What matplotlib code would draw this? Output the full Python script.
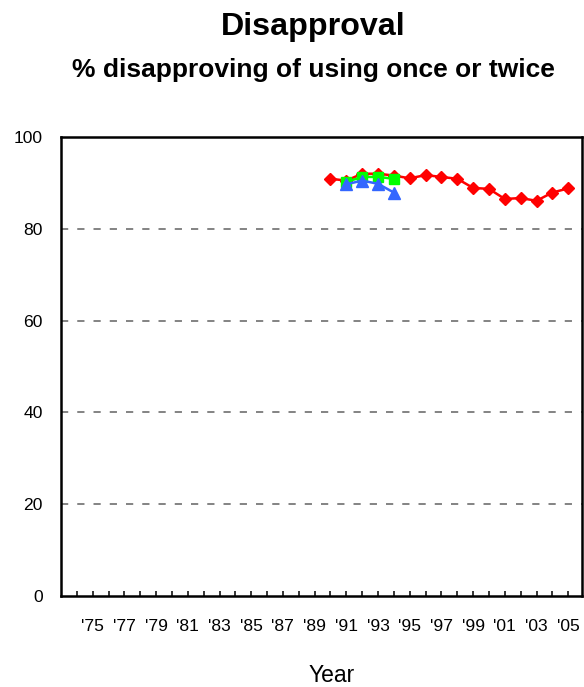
import matplotlib
matplotlib.use("Agg")
import matplotlib.pyplot as plt
from matplotlib.ticker import FixedLocator, FixedFormatter

plt.rcParams['font.family'] = ['Liberation Sans', 'DejaVu Sans']

# Data
red_years = list(range(1990, 2006))
red_values = [90.9, 90.5, 92.0, 92.0, 91.6, 91.0, 91.7, 91.3, 90.9, 88.9, 88.7, 86.5, 86.7, 86.1, 87.9, 88.8]
green_years = [1991, 1992, 1993, 1994]
green_values = [90.2, 91.3, 91.3, 90.9]
blue_years = [1991, 1992, 1993, 1994]
blue_values = [89.7, 90.5, 89.8, 87.9]

tick_years = list(range(1974, 2006))
label_years = list(range(1975, 2006, 2))
label_texts = ["'" + str(y)[2:] for y in label_years]
y_ticks = [0, 20, 40, 60, 80, 100]

W, H = 584, 687
fig = plt.figure(figsize=(W / 100, H / 100), dpi=100)
ax = fig.add_axes([61 / W, (H - 596) / H, (582 - 61) / W, (596 - 137) / H])

for y in [20, 40, 60, 80]:
    ax.axhline(y, color='#7a7a7a', lw=1.3, dashes=(4, 5), zorder=1)

ax.plot(red_years, red_values, color='#FF0000', lw=1.8, marker='D', ms=5.8,
        mec='#FF0000', mfc='#FF0000', zorder=3)
ax.plot(green_years, green_values, color='#00FF00', lw=1.8, marker='s', ms=7,
        mec='#00FF00', mfc='#00FF00', zorder=4)
ax.plot(blue_years, blue_values, color='#3366FF', lw=1.8, marker='^', ms=8,
        mec='#3366FF', mfc='#3366FF', zorder=5)

ax.set_xlim(1973.0, 2005.87)
ax.set_ylim(0, 100)

ax.xaxis.set_major_locator(FixedLocator(label_years))
ax.xaxis.set_major_formatter(FixedFormatter(label_texts))
ax.xaxis.set_minor_locator(FixedLocator(tick_years))
ax.tick_params(axis='x', which='both', direction='in', length=3.3, width=1.1,
               color='black', pad=16.5, labelsize=12.6)
ax.set_yticks(y_ticks)
ax.tick_params(axis='y', which='both', length=0, pad=13, labelsize=12.6)

for s in ax.spines.values():
    s.set_linewidth(1.8)
    s.set_color('black')

fig.text(313 / W, 1 - 27 / H, 'Disapproval', ha='center', va='center',
         fontsize=23.2, fontweight='bold')
fig.text(313 / W, 1 - 70 / H, '% disapproving of using once or twice', ha='center', va='center',
         fontsize=19, fontweight='bold')
fig.text(332 / W, 1 - 675 / H, 'Year', ha='center', va='center', fontsize=16.5)

fig.savefig('out.png', dpi=100)
